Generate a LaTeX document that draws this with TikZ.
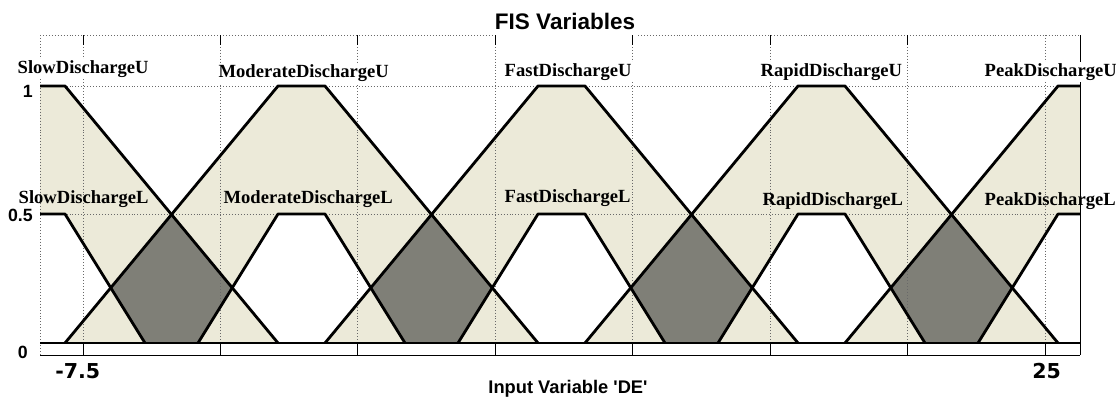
\documentclass[tikz,border=0pt]{standalone}
\usepackage{fontspec}
\setmainfont{Liberation Serif}
\setsansfont{Liberation Sans}
\newfontfamily\tickfont{DejaVu Sans}
\newfontfamily\axisfont{Liberation Sans}[Ligatures=TeXOff]
\usepackage{xcolor}
\definecolor{foubeige}{RGB}{236,234,217}
\definecolor{fougray}{RGB}{127,127,119}
\definecolor{gridgray}{RGB}{105,105,105}
\usetikzlibrary{calc}

\begin{document}
\begin{tikzpicture}[
  x=0.025cm, y=-0.025cm,
  mfline/.style={line width=2pt, line join=round},
  gridline/.style={gridgray, line width=0.7pt, dash pattern=on 0.7pt off 1.4pt},
  axline/.style={line width=0.7pt},
  mflabel/.style={font=\fontsize{13.2}{14}\selectfont\bfseries, inner sep=1pt, anchor=base west},
  ylab/.style={font=\fontsize{12.6}{13}\selectfont\sffamily\bfseries, anchor=base east, inner sep=0pt},
  xlab/.style={font=\fontsize{14.6}{16}\selectfont\tickfont\bfseries, anchor=base west, inner sep=0pt}
]
\useasboundingbox (0,0) rectangle (1116,397);
\coordinate (tl) at (40,35);
\coordinate (tr) at (1080,35);
\coordinate (bl) at (40,343);
\coordinate (br) at (1080,343);

\begin{scope}
  \clip (tl) rectangle (br);
  \foreach \k in {0,...,4} {
    \pgfmathsetmacro\mfc{41.5+260*\k}
    \fill[foubeige, even odd rule] ({\mfc-236.5},343) -- ({\mfc-23.5},86) -- ({\mfc+23.5},86) -- ({\mfc+236.5},343) -- cycle
      ({\mfc-103.5},343) -- ({\mfc-23.5},214) -- ({\mfc+23.5},214) -- ({\mfc+103.5},343) -- cycle;
  }
  \foreach \k in {0,...,3} {
    \pgfmathsetmacro\mfc{41.5+260*\k}
    \fill[fougray] ({\mfc+103.5},343) -- ({\mfc+69.3},287.8) -- ({\mfc+130},214.5) -- ({\mfc+190.7},287.8) -- ({\mfc+156.5},343) -- cycle;
  }
\end{scope}

\draw[gridline] (tl) -- (40,355);
\foreach \t in {0,...,7}
  \draw[gridline] ({83+137.43*\t},35) -- ({83+137.43*\t},343);
\draw[gridline] (40,86) -- (1080,86);
\draw[gridline] (40,214) -- (1080,214);

\node[font=\fontsize{16}{18}\selectfont\sffamily\bfseries, anchor=base, inner sep=2pt] (title) at (565,29.5) {FIS Variables};
\draw[gridline] (tl) -- (tl -| title.west);
\draw[gridline] (title.east |- tr) -- (tr);

\begin{scope}
  \clip (40,30) rectangle (1080,350);
  \foreach \k in {0,...,4} {
    \pgfmathsetmacro\mfc{41.5+260*\k}
    \draw[mfline] ({\mfc-236.5},343) -- ({\mfc-23.5},86) -- ({\mfc+23.5},86) -- ({\mfc+236.5},343);
    \draw[mfline] ({\mfc-103.5},343) -- ({\mfc-23.5},214) -- ({\mfc+23.5},214) -- ({\mfc+103.5},343);
  }
\end{scope}

\draw[line width=2pt] (bl) -- (br);
\draw[axline] (40,355) -- (1080,355);
\draw[axline] (tr) -- (1080,355);
\foreach \t in {0,...,7}
  \draw[axline] ({83+137.43*\t},343) -- ({83+137.43*\t},355);
\foreach \t in {0,...,6}
  \draw[axline] ({83+137.43*\t},35) -- ({83+137.43*\t},45);

\node[mflabel, fill=white] (slowU) at (16,73) {SlowDischargeU};
\node[mflabel, fill=white] (moderateU) at (217,77) {ModerateDischargeU};
\node[mflabel, fill=white] (fastU) at (503,76) {FastDischargeU};
\node[mflabel, fill=white] (rapidU) at (759,76) {RapidDischargeU};
\node[mflabel, fill=white] (peakU) at (983,76) {PeakDischargeU};

\node[mflabel] (slowL) at (17,203) {SlowDischargeL};
\node[mflabel] (moderateL) at (222,203) {ModerateDischargeL};
\node[mflabel] (fastL) at (503,202) {FastDischargeL};
\node[mflabel] (rapidL) at (761,205) {RapidDischargeL};
\node[mflabel] (peakL) at (983,205) {PeakDischargeL};

\node[ylab] (yone) at (33,97) {1};
\node[ylab] (yhalf) at (33,221) {0.5};
\node[ylab] (yzero) at (28,358) {0};

\node[xlab] (xmin) at (55,378) {-7.5};
\node[xlab] (xmax) at (1032,378) {25};
\node[font=\fontsize{13}{15}\selectfont\axisfont\bfseries, anchor=base, inner sep=0pt] (xtitle) at (568,393) {Input Variable 'DE'};
\end{tikzpicture}
\end{document}
